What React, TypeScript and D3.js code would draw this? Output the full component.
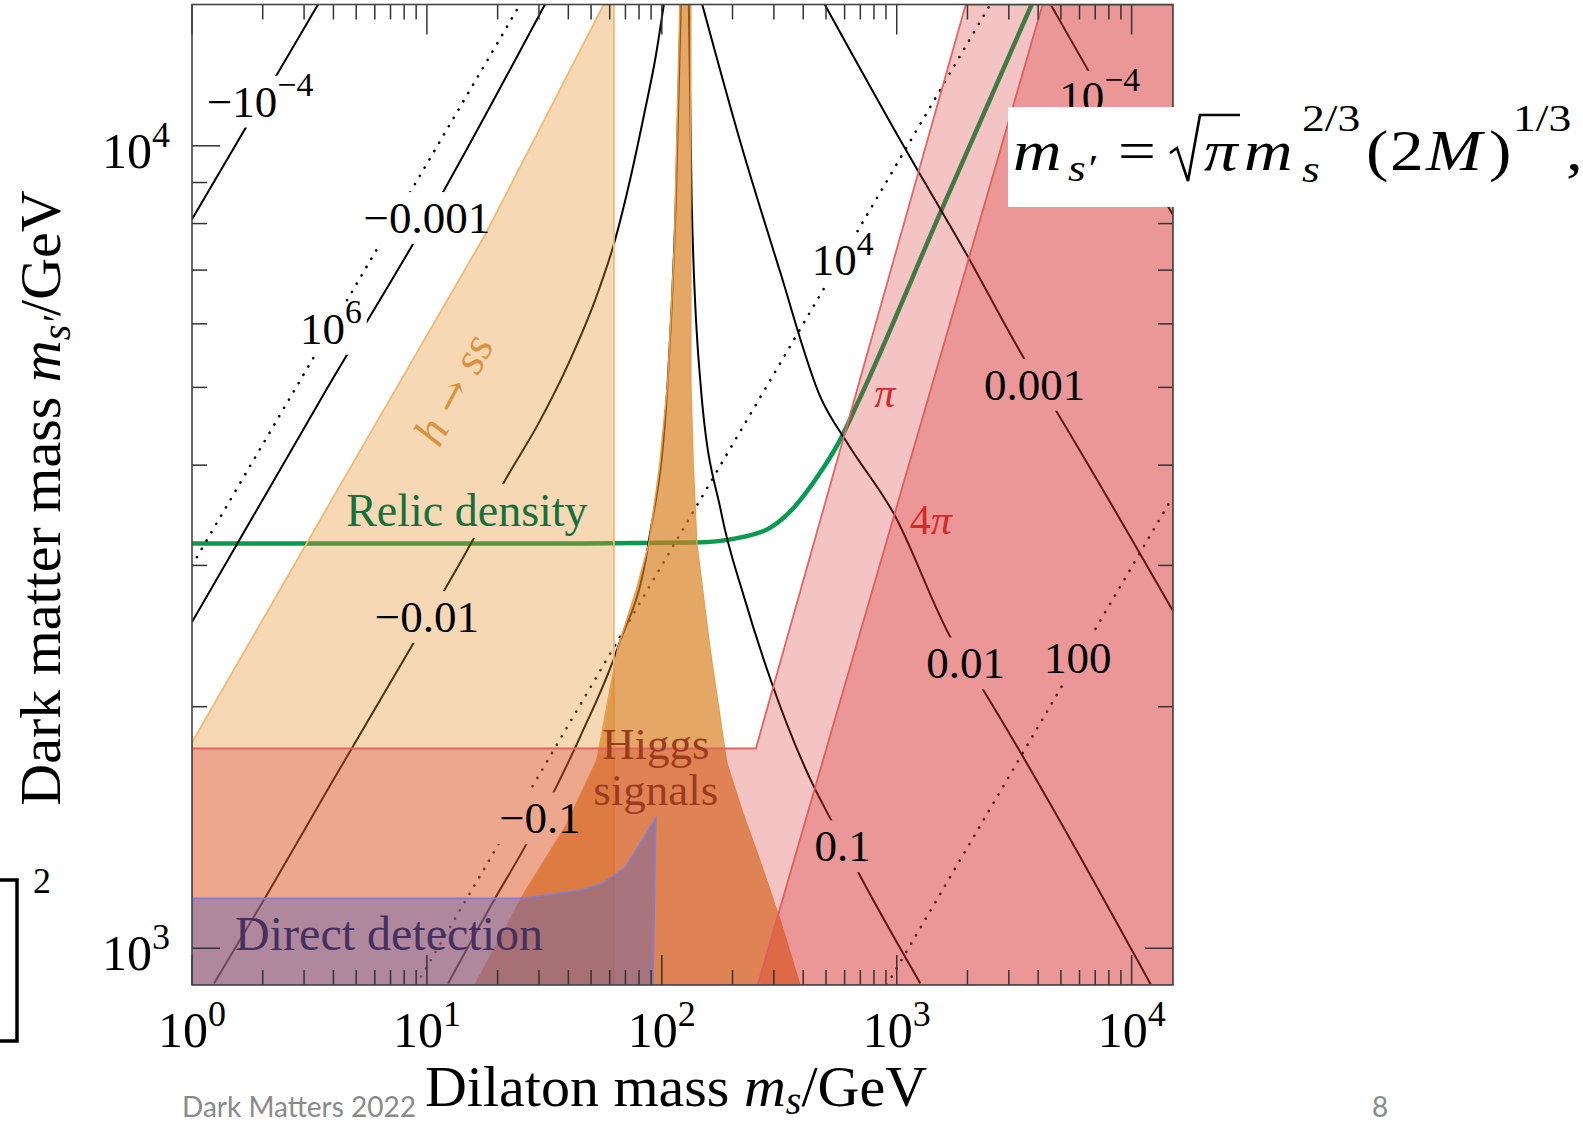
import React from "react";
import * as d3 from "d3";

// axes (GeV, log scales)
const xDomain: [number, number] = [1, 15000];
const yDomain: [number, number] = [900, 15000];
const xDecades = [1, 10, 100, 1000, 10000];
const xDecadeExp = ["0", "1", "2", "3", "4"];
const yDecades = [1000, 10000];
const yDecadeExp = ["3", "4"];

// shaded regions, points are [m_s, m_s'] in GeV
const hToSS = [[1, 900], [1, 1805], [4.14, 3715], [17.8, 7770], [56.6, 15000], [62.5, 15000], [62.5, 900]];
const higgsLeft = [[16.0, 900], [25.9, 1171], [39, 1420], [52.9, 1715], [65.0, 2371], [78, 2800], [88.1, 3194], [98, 4000], [106, 5096], [113, 7500], [119.3, 15000]];
const higgsRight = [[132.8, 15000], [132.8, 5096], [136, 4000], [140.9, 3194], [160, 2371], [189, 1700], [220, 1480], [261, 1287], [320, 1080], [387, 900]];
const perturbPi = [[1, 900], [1, 1774], [251.5, 1774], [1967, 15000], [15000, 15000], [15000, 900]];
const perturb4Pi = [[256, 900], [4180, 15000], [15000, 15000], [15000, 900]];
const directDetection = [
  [1, 900], [1, 1154], [25.9, 1154], [44.8, 1181], [56.1, 1205], [70.3, 1262], [94.2, 1452], [91.6, 900],
];

// relic density curve
const relicDensity = [
  [1, 3195], [44.8, 3195], [138, 3203], [217, 3251], [291, 3345], [364.5, 3540], [457, 3860],
  [572, 4292], [689, 4813], [1524, 8222], [3752, 15000],
];

// solid contours
const cNeg4 = [[1, 8100], [3.44, 15000]];
const cNeg3 = [[1, 2550], [3.56, 4850], [11.8, 8790], [31.8, 15000]];
const cNeg2 = [
  [1.24, 904], [2.02, 1148], [3.98, 1618], [8.55, 2371], [15.4, 3195], [21.5, 3828], [30.3, 4545],
  [40.6, 5400], [51.9, 6412], [63.1, 7616], [73.1, 9046], [84.7, 11056], [94.3, 12950], [102, 15000],
];
const cNeg1 = [
  [12.3, 904], [19.3, 1148], [25.9, 1332], [44.8, 1832], [65.0, 2371], [88.1, 3221], [106, 5096],
  [114.7, 8520], [120.5, 15000],
];
const cPos1 = [
  [1260, 904], [689, 1240], [532, 1435], [425, 1633], [291, 2158], [224.4, 2735], [179.4, 3481],
  [145.8, 5096], [134, 8520], [130.3, 15000],
];
const cPos2 = [
  [12050, 902], [2300, 2113], [1698, 2438], [971, 3481], [618, 4256], [475, 4852], [315, 7047],
  [217, 10060], [148.6, 15000],
];
const cPos3 = [[14940, 2637], [4677, 4720], [3470, 5445], [1977, 7336], [1081, 9943], [494, 15000]];
const cPos4 = [[15000, 8200], [6561, 12390], [4520, 15000]];
const solidContours = [cNeg4, cNeg3, cNeg2, cNeg1, cPos1, cPos2, cPos3, cPos4];

// dotted contours
const d1e6 = [[1, 3000], [24.9, 15000]];
const d1e4 = [[9.0, 900], [2500, 15000]];
const d100 = [[908, 900], [15000, 3656]];
const dottedContours = [d1e6, d1e4, d100];

// contour labels: text, superscript, [m_s, m_s']
const contourLabels = [
  { t: "−10", s: "−4", at: [1.95, 11350] },
  { t: "−0.001", s: "", at: [10.0, 8130] },
  { t: "10", s: "6", at: [3.9, 5915] },
  { t: "−0.01", s: "", at: [10.0, 2587] },
  { t: "−0.1", s: "", at: [30.3, 1452] },
  { t: "10", s: "4", at: [589, 7194] },
  { t: "0.001", s: "", at: [3865, 5035] },
  { t: "0.01", s: "", at: [1967, 2265] },
  { t: "100", s: "", at: [5890, 2296] },
  { t: "0.1", s: "", at: [589, 1340] },
  { t: "10", s: "−4", at: [7310, 11510] },
];

const W = 1583;
const H = 1123;
const plot = { left: 192, right: 1173, top: 4.5, bottom: 985 };
const serif = "'Liberation Serif', 'DejaVu Serif', serif";
const LFS = 45;

const glyphW = (s: string) =>
  s.split("").reduce((a, c) => a + (c === "." ? 0.25 : c === "−" ? 0.564 : 0.5), 0);
const byX = (c: number[][]) => [...c].sort((a, b) => a[0] - b[0]);

// pieces of the formula m_s' = sqrt(pi) m_s^(2/3) (2M)^(1/3)
const formula = [
  { t: "m", x: 1013, y: 170, it: true, sc: false },
  { t: "s′", x: 1068, y: 181, it: true, sc: true },
  { t: "=", x: 1118, y: 170, it: false, sc: false },
  { t: "π", x: 1204, y: 170, it: true, sc: false },
  { t: "m", x: 1244, y: 170, it: true, sc: false },
  { t: "s", x: 1302, y: 182, it: true, sc: true },
  { t: "2/3", x: 1302, y: 131, it: false, sc: true },
  { t: "(", x: 1366, y: 170, it: false, sc: false },
  { t: "2", x: 1390, y: 170, it: false, sc: false },
  { t: "M", x: 1426, y: 170, it: true, sc: false },
  { t: ")", x: 1489, y: 170, it: false, sc: false },
  { t: "1/3", x: 1513, y: 131, it: false, sc: true },
  { t: ",", x: 1566, y: 170, it: false, sc: false },
];

export default function App() {
  const x = d3.scaleLog().domain(xDomain).range([plot.left, plot.right]);
  const y = d3.scaleLog().domain(yDomain).range([plot.bottom, plot.top]);
  const smooth = d3
    .line<number[]>()
    .x((d) => x(d[0]))
    .y((d) => y(d[1]))
    .curve(d3.curveMonotoneX);
  const straight = d3
    .line<number[]>()
    .x((d) => x(d[0]))
    .y((d) => y(d[1]));

  const xMinor = xDecades
    .flatMap((d) => d3.range(2, 10).map((k) => k * d))
    .filter((v) => v < xDomain[1]);
  const yMinor = [100, 1000, 10000]
    .flatMap((d) => d3.range(2, 10).map((k) => k * d))
    .filter((v) => v > yDomain[0] && v < yDomain[1]);

  const pw = plot.right - plot.left;
  const ph = plot.bottom - plot.top;

  /* label boxes that cut gaps into the contour lines */
  const gapBoxes = contourLabels.map((l) => {
    const w = (glyphW(l.t) + glyphW(l.s) * 0.75) * LFS + 10;
    return { cx: x(l.at[0]), cy: y(l.at[1]), w, h: LFS * 1.15 };
  });
  const relicAt = [14.8, 3508];
  gapBoxes.push({ cx: x(relicAt[0]), cy: y(relicAt[1]), w: 255, h: 54 });

  const higgsPath = straight([...higgsLeft, ...higgsRight]) + "Z";
  const tickColor = "#333";

  return (
    <svg
      width={W}
      height={H}
      style={{ position: "absolute", left: 0, top: 0, background: "#fff" }}
      fontFamily={serif}
    >
      <defs>
        <clipPath id="plotClip">
          <rect x={plot.left} y={plot.top} width={pw} height={ph} />
        </clipPath>
        <mask id="gaps" maskUnits="userSpaceOnUse" x={0} y={0} width={W} height={H}>
          <rect x={0} y={0} width={W} height={H} fill="#fff" />
          {gapBoxes.map((b, i) => (
            <rect key={i} x={b.cx - b.w / 2} y={b.cy - b.h / 2} width={b.w} height={b.h} fill="#000" />
          ))}
        </mask>
      </defs>

      <g clipPath="url(#plotClip)">
        {/* lines below the shaded regions */}
        <path d={smooth(relicDensity) || ""} fill="none" stroke="#089a4e" strokeWidth={4.5} />
        <g mask="url(#gaps)">
          {solidContours.map((c, i) => (
            <path key={i} d={smooth(byX(c)) || ""} fill="none" stroke="#000" strokeWidth={2} />
          ))}
          {dottedContours.map((c, i) => (
            <path
              key={i}
              d={straight(c) || ""}
              fill="none"
              stroke="#000"
              strokeWidth={2.6}
              strokeLinecap="round"
              strokeDasharray="0.1 9.5"
            />
          ))}
        </g>

        {/* shaded regions */}
        <path
          d={straight(hToSS) + "Z"}
          fill="rgb(230,145,40)"
          fillOpacity={0.35}
          stroke="rgb(240,185,115)"
          strokeWidth={1.8}
        />
        <path
          d={higgsPath}
          fill="rgb(215,125,30)"
          fillOpacity={0.68}
          stroke="rgb(232,160,80)"
          strokeWidth={1.5}
        />
        <path
          d={straight(perturbPi) + "Z"}
          fill="rgb(214,39,40)"
          fillOpacity={0.28}
          stroke="rgb(226,100,100)"
          strokeWidth={1.8}
        />
        <path
          d={straight(perturb4Pi) + "Z"}
          fill="rgb(214,39,40)"
          fillOpacity={0.28}
          stroke="rgb(220,95,95)"
          strokeWidth={1.8}
        />
        <path
          d={straight(directDetection) + "Z"}
          fill="rgb(100,100,180)"
          fillOpacity={0.45}
          stroke="rgb(135,125,200)"
          strokeWidth={1.8}
        />
      </g>

      {/* contour labels */}
      {contourLabels.map((l, i) => (
        <text
          key={i}
          x={x(l.at[0])}
          y={y(l.at[1]) + LFS * 0.33}
          textAnchor="middle"
          fontSize={LFS}
          fill="#000"
        >
          {l.t}
          {l.s && (
            <tspan dy={-LFS * 0.45} fontSize={LFS * 0.75}>
              {l.s}
            </tspan>
          )}
        </text>
      ))}

      {/* region labels */}
      <text
        transform={`translate(${x(13.0)},${y(4966)}) rotate(-62)`}
        textAnchor="middle"
        y={15}
        fontSize={46}
        fill="#d99240"
      >
        <tspan fontStyle="italic">h</tspan>
        <tspan fontFamily="'DejaVu Serif', serif" fontSize={40}> → </tspan>
        <tspan fontStyle="italic">ss</tspan>
      </text>
      <text x={x(relicAt[0])} y={y(relicAt[1]) + 15} textAnchor="middle" fontSize={46} fill="#15703c">
        Relic density
      </text>
      <text x={x(94.3)} y={y(1795) + 15} textAnchor="middle" fontSize={45} fill="#9c3c1e">
        Higgs
      </text>
      <text x={x(94.3)} y={y(1574) + 15} textAnchor="middle" fontSize={45} fill="#9c3c1e">
        signals
      </text>
      <text x={x(6.9)} y={y(1041) + 16} textAnchor="middle" fontSize={48} fill="#48305e">
        Direct detection
      </text>
      <text x={x(889)} y={y(4898) + 12} textAnchor="middle" fontSize={42} fontStyle="italic" fill="#d42a2a">
        π
      </text>
      <text x={x(1396)} y={y(3404) + 13} textAnchor="middle" fontSize={42} fill="#d42a2a">
        4<tspan fontStyle="italic">π</tspan>
      </text>

      {/* frame and ticks */}
      <g stroke={tickColor} strokeWidth={1.5}>
        {xDecades.map((v, i) => (
          <g key={"xM" + i}>
            <line x1={x(v)} x2={x(v)} y1={plot.bottom} y2={plot.bottom - 30} />
            <line x1={x(v)} x2={x(v)} y1={plot.top} y2={plot.top + 30} />
          </g>
        ))}
        {xMinor.map((v, i) => (
          <g key={"xm" + i}>
            <line x1={x(v)} x2={x(v)} y1={plot.bottom} y2={plot.bottom - 15} />
            <line x1={x(v)} x2={x(v)} y1={plot.top} y2={plot.top + 15} />
          </g>
        ))}
        {yDecades.map((v, i) => (
          <g key={"yM" + i}>
            <line x1={plot.left} x2={plot.left + 28} y1={y(v)} y2={y(v)} />
            <line x1={plot.right} x2={plot.right - 28} y1={y(v)} y2={y(v)} />
          </g>
        ))}
        {yMinor.map((v, i) => (
          <g key={"ym" + i}>
            <line x1={plot.left} x2={plot.left + 15} y1={y(v)} y2={y(v)} />
            <line x1={plot.right} x2={plot.right - 15} y1={y(v)} y2={y(v)} />
          </g>
        ))}
        <rect x={plot.left} y={plot.top} width={pw} height={ph} fill="none" stroke="#444" strokeWidth={1.6} />
      </g>

      {/* tick labels */}
      {xDecades.map((v, i) => (
        <text key={"xl" + i} x={x(v)} y={1047} textAnchor="middle" fontSize={50}>
          10
          <tspan dy={-21} fontSize={36}>
            {xDecadeExp[i]}
          </tspan>
        </text>
      ))}
      {yDecades.map((v, i) => (
        <text key={"yl" + i} x={170} y={y(v) + 22} textAnchor="end" fontSize={50}>
          10
          <tspan dy={-21} fontSize={36}>
            {yDecadeExp[i]}
          </tspan>
        </text>
      ))}

      {/* axis titles */}
      <text x={676} y={1106} textAnchor="middle" fontSize={58}>
        Dilaton mass <tspan fontStyle="italic">m</tspan>
        <tspan fontStyle="italic" fontSize={40} dy={8}>
          s
        </tspan>
        <tspan dy={-8}>/GeV</tspan>
      </text>
      <text transform="translate(60,498) rotate(-90)" textAnchor="middle" fontSize={58}>
        Dark matter mass <tspan fontStyle="italic">m</tspan>
        <tspan fontStyle="italic" fontSize={40} dy={10}>
          s′
        </tspan>
        <tspan dy={-10}>/GeV</tspan>
      </text>

      {/* formula box */}
      <rect x={1008} y={107} width={W - 1008} height={100} fill="#fff" />
      <path d="M1170,153 L1177,148 L1188,181 L1200,115 L1240,115" fill="none" stroke="#000" strokeWidth={2.6} />
      {formula.map((p, i) => (
        <text
          key={i}
          transform={`translate(${p.x},${p.y}) scale(1.2,1)`}
          fontSize={p.sc ? 38 : 56}
          fontStyle={p.it ? "italic" : "normal"}
          fill="#000"
        >
          {p.t}
        </text>
      ))}

      {/* slide leftovers */}
      <path d="M0,880 H17 V1041 H0" fill="none" stroke="#000" strokeWidth={3.5} />
      <text x={33} y={893} fontSize={36}>
        2
      </text>
      <text x={182} y={1117} fontSize={28} fill="#8a8a8a" fontFamily="Lato, 'Open Sans', sans-serif">
        Dark Matters 2022
      </text>
      <text x={1372} y={1117} fontSize={28} fill="#8a8a8a" fontFamily="Lato, 'Open Sans', sans-serif">
        8
      </text>
    </svg>
  );
}
